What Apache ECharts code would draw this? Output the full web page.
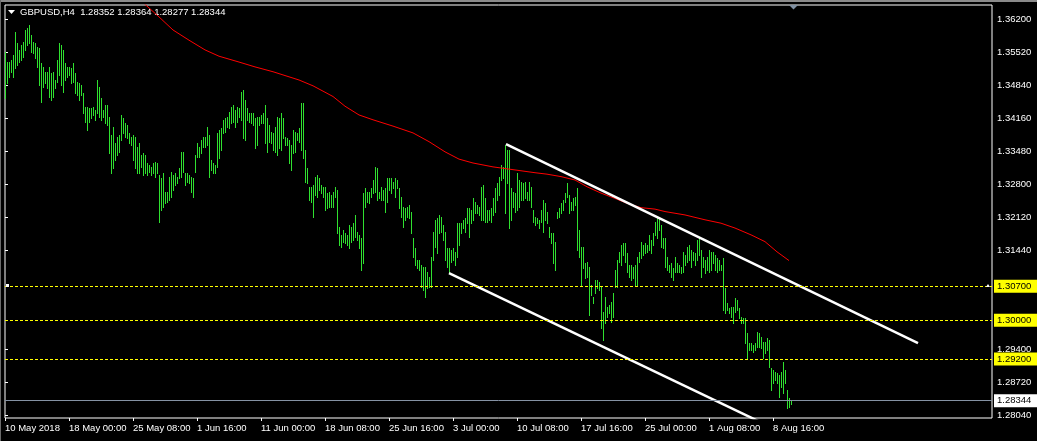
<!DOCTYPE html>
<html><head><meta charset="utf-8">
<script src="https://cdn.jsdelivr.net/npm/echarts@6/dist/echarts.min.js"></script>
<style>html,body{margin:0;padding:0;background:#000;}#c{width:1037px;height:441px;}</style>
</head><body><div id="c"></div>
<script>
// ---------- data ----------
const symbolName = 'GBPUSD,H4';
const headerOHLC = [1.28352, 1.28364, 1.28277, 1.28344];
const xTickIndex = [0,32,64,96,128,160,192,224,256,288,320,352,384];
const xTickLabels = ['10 May 2018','18 May 00:00','25 May 08:00','1 Jun 16:00','11 Jun 00:00','18 Jun 08:00','25 Jun 16:00','3 Jul 00:00','10 Jul 08:00','17 Jul 16:00','25 Jul 00:00','1 Aug 08:00','8 Aug 16:00'];
const yTickValues = [1.2804,1.2872,1.2940,1.3144,1.3212,1.3280,1.3348,1.3416,1.3484,1.3552,1.3620];
const levelLines = [1.30700, 1.30000, 1.29200];
const bidPrice = 1.28344;

const barHigh = [
1.3553,1.3532,1.3532,1.3536,1.3547,1.3594,1.3571,1.3557,1.3567,1.3574,
1.3598,1.3602,1.3609,1.3588,1.3574,1.3571,1.3563,1.3561,1.3530,1.3522,
1.3512,1.3512,1.3522,1.3510,1.3512,1.3495,1.3536,1.3571,1.3567,1.3557,
1.3530,1.3522,1.3522,1.3520,1.3530,1.3510,1.3491,1.3489,1.3485,1.3468,
1.3440,1.3440,1.3438,1.3438,1.3440,1.3433,1.3495,1.3481,1.3458,1.3433,
1.3444,1.3444,1.3419,1.3382,1.3398,1.3365,1.3378,1.3382,1.3423,1.3417,
1.3407,1.3402,1.3386,1.3378,1.3382,1.3378,1.3357,1.3365,1.3341,1.3345,
1.3341,1.3324,1.3320,1.3316,1.3324,1.3326,1.3324,1.3300,1.3293,1.3304,
1.3265,1.3265,1.3295,1.3306,1.3300,1.3304,1.3295,1.3314,1.3347,1.3347,
1.3304,1.3304,1.3300,1.3295,1.3293,1.3341,1.3365,1.3357,1.3372,1.3378,
1.3378,1.3398,1.3382,1.3330,1.3324,1.3320,1.3386,1.3392,1.3396,1.3413,
1.3417,1.3419,1.3429,1.3440,1.3444,1.3433,1.3440,1.3438,1.3470,1.3475,
1.3454,1.3438,1.3427,1.3427,1.3427,1.3417,1.3419,1.3419,1.3423,1.3427,
1.3444,1.3417,1.3402,1.3388,1.3386,1.3398,1.3419,1.3417,1.3427,1.3417,
1.3378,1.3376,1.3372,1.3361,1.3392,1.3388,1.3386,1.3396,1.3448,1.3448,
1.3351,1.3314,1.3275,1.3275,1.3279,1.3295,1.3300,1.3293,1.3279,1.3275,
1.3275,1.3262,1.3265,1.3258,1.3265,1.3275,1.3269,1.3192,1.3176,1.3186,
1.3180,1.3176,1.3197,1.3192,1.3201,1.3217,1.3182,1.3176,1.3170,1.3262,
1.3273,1.3265,1.3265,1.3273,1.3289,1.3316,1.3314,1.3265,1.3275,1.3269,
1.3273,1.3293,1.3293,1.3293,1.3285,1.3293,1.3289,1.3273,1.3254,1.3234,
1.3231,1.3234,1.3238,1.3223,1.3170,1.3149,1.3124,1.3124,1.3114,1.3110,
1.3110,1.3100,1.3089,1.3131,1.3182,1.3207,1.3211,1.3217,1.3213,1.3197,
1.3182,1.3149,1.3149,1.3145,1.3149,1.3141,1.3201,1.3201,1.3201,1.3207,
1.3211,1.3231,1.3231,1.3227,1.3252,1.3244,1.3238,1.3234,1.3275,1.3279,
1.3252,1.3227,1.3227,1.3231,1.3252,1.3273,1.3283,1.3295,1.3320,1.3316,
1.3361,1.3351,1.3351,1.3273,1.3265,1.3262,1.3304,1.3289,1.3285,1.3283,
1.3285,1.3265,1.3285,1.3275,1.3227,1.3213,1.3211,1.3207,1.3227,1.3248,
1.3242,1.3223,1.3192,1.3180,1.3180,1.3162,1.3223,1.3231,1.3242,1.3248,
1.3262,1.3283,1.3258,1.3244,1.3252,1.3254,1.3273,1.3186,1.3151,1.3151,
1.3118,1.3120,1.3110,1.3073,1.3048,1.3083,1.3083,1.3079,1.3069,1.3017,
1.3048,1.3028,1.3032,1.3038,1.3056,1.3104,1.3124,1.3141,1.3155,1.3159,
1.3159,1.3139,1.3114,1.3114,1.3110,1.3114,1.3131,1.3141,1.3162,1.3155,
1.3159,1.3155,1.3176,1.3166,1.3180,1.3203,1.3211,1.3213,1.3197,1.3170,
1.3170,1.3131,1.3114,1.3118,1.3108,1.3131,1.3118,1.3114,1.3110,1.3141,
1.3135,1.3151,1.3155,1.3145,1.3141,1.3139,1.3166,1.3172,1.3145,1.3131,
1.3124,1.3131,1.3145,1.3141,1.3141,1.3135,1.3128,1.3124,1.3114,1.3128,
1.3067,1.3036,1.3026,1.3028,1.3028,1.3046,1.3042,1.3026,1.3007,1.3005,
1.3005,1.2974,1.2953,1.2953,1.2949,1.2953,1.2976,1.2974,1.2966,1.2956,
1.2956,1.2964,1.2960,1.2902,1.2898,1.2894,1.2892,1.2888,1.2894,1.2914,
1.2898,1.2857,1.2840,1.28364
];
const barLow = [
1.3458,1.3489,1.3501,1.3512,1.3501,1.3520,1.3526,1.3532,1.3536,1.3543,
1.3557,1.3567,1.3571,1.3553,1.3551,1.3541,1.3522,1.3485,1.3450,1.3481,
1.3489,1.3479,1.3460,1.3454,1.3460,1.3479,1.3491,1.3506,1.3485,1.3471,
1.3495,1.3501,1.3506,1.3489,1.3491,1.3468,1.3464,1.3454,1.3464,1.3427,
1.3409,1.3392,1.3409,1.3417,1.3423,1.3413,1.3427,1.3419,1.3413,1.3419,
1.3407,1.3402,1.3345,1.3304,1.3314,1.3330,1.3341,1.3347,1.3372,1.3386,
1.3378,1.3376,1.3365,1.3361,1.3330,1.3314,1.3304,1.3304,1.3316,1.3300,
1.3304,1.3300,1.3306,1.3300,1.3304,1.3295,1.3304,1.3203,1.3227,1.3234,
1.3242,1.3244,1.3248,1.3254,1.3269,1.3279,1.3283,1.3293,1.3295,1.3306,
1.3279,1.3285,1.3283,1.3264,1.3254,1.3306,1.3337,1.3337,1.3345,1.3357,
1.3357,1.3361,1.3295,1.3310,1.3304,1.3304,1.3316,1.3335,1.3351,1.3386,
1.3388,1.3398,1.3396,1.3407,1.3409,1.3398,1.3409,1.3419,1.3413,1.3376,
1.3372,1.3413,1.3409,1.3407,1.3402,1.3355,1.3361,1.3402,1.3407,1.3407,
1.3365,1.3347,1.3367,1.3365,1.3351,1.3347,1.3341,1.3355,1.3351,1.3376,
1.3361,1.3361,1.3324,1.3310,1.3345,1.3347,1.3372,1.3367,1.3351,1.3335,
1.3285,1.3283,1.3248,1.3244,1.3213,1.3258,1.3254,1.3269,1.3262,1.3254,
1.3227,1.3231,1.3234,1.3234,1.3234,1.3254,1.3180,1.3155,1.3151,1.3161,
1.3159,1.3155,1.3149,1.3161,1.3166,1.3172,1.3166,1.3149,1.3104,1.3118,
1.3234,1.3244,1.3242,1.3254,1.3262,1.3265,1.3248,1.3252,1.3248,1.3248,
1.3223,1.3244,1.3269,1.3262,1.3273,1.3254,1.3273,1.3231,1.3213,1.3192,
1.3207,1.3213,1.3211,1.3180,1.3131,1.3114,1.3108,1.3104,1.3069,1.3063,
1.3048,1.3067,1.3069,1.3069,1.3124,1.3151,1.3139,1.3180,1.3182,1.3166,
1.3124,1.3110,1.3098,1.3120,1.3124,1.3114,1.3131,1.3155,1.3180,1.3190,
1.3182,1.3201,1.3172,1.3201,1.3207,1.3221,1.3221,1.3217,1.3207,1.3207,
1.3203,1.3203,1.3207,1.3203,1.3217,1.3223,1.3248,1.3258,1.3289,1.3293,
1.3221,1.3283,1.3190,1.3207,1.3234,1.3223,1.3227,1.3234,1.3248,1.3248,
1.3252,1.3248,1.3248,1.3234,1.3203,1.3197,1.3201,1.3190,1.3203,1.3182,
1.3207,1.3201,1.3172,1.3159,1.3118,1.3104,1.3211,1.3213,1.3221,1.3227,
1.3244,1.3254,1.3221,1.3227,1.3227,1.3238,1.3145,1.3131,1.3073,1.3108,
1.3087,1.3089,1.3011,1.3052,1.3036,1.3056,1.3067,1.3063,1.2984,1.2960,
1.2995,1.3007,1.3015,1.2997,1.3007,1.3069,1.3069,1.3120,1.3114,1.3135,
1.3120,1.3100,1.3089,1.3083,1.3087,1.3073,1.3073,1.3120,1.3128,1.3135,
1.3139,1.3141,1.3145,1.3139,1.3155,1.3176,1.3170,1.3186,1.3151,1.3149,
1.3110,1.3104,1.3100,1.3089,1.3083,1.3100,1.3100,1.3100,1.3098,1.3100,
1.3114,1.3120,1.3124,1.3110,1.3124,1.3114,1.3124,1.3135,1.3089,1.3110,
1.3098,1.3104,1.3100,1.3104,1.3118,1.3104,1.3100,1.3104,1.3104,1.3021,
1.3015,1.3021,1.3015,1.3007,1.2995,1.3017,1.3021,1.3005,1.2995,1.2995,
1.2953,1.2922,1.2939,1.2939,1.2935,1.2939,1.2945,1.2945,1.2943,1.2922,
1.2933,1.2939,1.2904,1.2857,1.2871,1.2877,1.2871,1.2842,1.2863,1.2850,
1.2871,1.2820,1.2822,1.28277
];

// moving average (red), sampled at bar indices
const maIndex = [67,77,84,92,100,107,117,125,134,147,154,164,170,177,184,194,204,212,220,227,234,244,251,258,265,271,278,285,291,298,305,311,318,325,330,340,350,358,365,373,380,386,392];
const maValue = [1.3662,1.3625,1.3598,1.3577,1.3557,1.3544,1.3532,1.3522,1.3512,1.3495,1.3483,1.3461,1.3441,1.3423,1.3413,1.3400,1.3386,1.3368,1.3347,1.3332,1.3324,1.3316,1.3312,1.3308,1.3304,1.3301,1.3296,1.3289,1.3275,1.3262,1.3251,1.3241,1.3232,1.3229,1.3224,1.3217,1.3207,1.3200,1.3190,1.3176,1.3162,1.3141,1.3123];

// channel trend lines: [barIndex, price]
const channelUpper = [[250.5, 1.3363], [456.5, 1.2953]];
const channelLower = [[222, 1.3097], [387.5, 1.2771]];

// ---------- chart ----------
const FONT = '"Liberation Sans", Arial, sans-serif';
const BAR_COLOR = '#2fe02f';
const bars = barHigh.map((h, i) => [i, barLow[i], h]);
const maData = maIndex.map((ix, k) => [ix, maValue[k]]);

const chart = echarts.init(document.getElementById('c'), null, {renderer: 'canvas'});
const labelBase = {show: true, position: 'end', distance: 2, fontSize: 9.5, fontFamily: FONT,
  padding: [2, 8, 1, 3], lineHeight: 10, formatter: p => Number(p.value).toFixed(5)};

const option = {
  backgroundColor: '#000',
  animation: false,
  grid: {left: 5, right: 45, top: 5, bottom: 23, show: true, borderColor: '#ffffff', borderWidth: 1, backgroundColor: 'transparent'},
  xAxis: {
    type: 'value', min: 0, max: 493.5,
    axisLine: {show: false}, splitLine: {show: false},
    axisTick: {show: true, length: 3, lineStyle: {color: '#ffffff'}, customValues: xTickIndex},
    axisLabel: {customValues: xTickIndex, formatter: v => xTickLabels[xTickIndex.indexOf(v)],
      color: '#ffffff', fontSize: 9.5, fontFamily: FONT, align: 'left', margin: 5}
  },
  yAxis: {
    type: 'value', position: 'right', min: 1.27987, max: 1.36495,
    axisLine: {show: false}, splitLine: {show: false},
    axisTick: {show: true, length: 3, lineStyle: {color: '#ffffff'}, customValues: yTickValues},
    axisLabel: {customValues: yTickValues, formatter: v => v.toFixed(5),
      color: '#ffffff', fontSize: 9.5, fontFamily: FONT, margin: 5}
  },
  series: [
    {
      type: 'custom', name: 'bars', data: bars, clip: true,
      encode: {x: 0, y: [1, 2]},
      renderItem: (params, api) => {
        const i = api.value(0);
        const lo = api.coord([i, api.value(1)]);
        const hi = api.coord([i, api.value(2)]);
        const x = Math.floor(lo[0] + 0.01) + 0.5;
        return {type: 'line', shape: {x1: x, y1: Math.round(hi[1]), x2: x, y2: Math.round(lo[1]) + 1},
          style: {stroke: BAR_COLOR, lineWidth: 1}};
      }
    },
    {
      type: 'line', name: 'MA', data: maData, showSymbol: false, symbol: 'none', clip: true,
      lineStyle: {color: '#ff0000', width: 1}, z: 3
    },
    {
      type: 'line', name: 'upper', data: channelUpper, symbol: 'none', clip: true,
      lineStyle: {color: '#ffffff', width: 2.5}, z: 4,
      markLine: {
        silent: true, symbol: 'none', precision: 5, animation: false,
        label: labelBase,
        data: [
          ...levelLines.map(v => ({yAxis: v, lineStyle: {color: '#ffff00', type: [3, 2], width: 1},
            label: {backgroundColor: '#ffff00', color: '#000000'}})),
          {yAxis: bidPrice, lineStyle: {color: '#8592a4', type: 'solid', width: 1},
            label: {backgroundColor: '#ffffff', color: '#000000'}}
        ]
      }
    },
    {
      type: 'line', name: 'lower', data: channelLower, symbol: 'none', clip: true,
      lineStyle: {color: '#ffffff', width: 2.5}, z: 4
    }
  ],
  graphic: [
    {type: 'rect', shape: {x: 0, y: 0, width: 1037, height: 2}, style: {fill: '#8a8a8a'}, silent: true},
    {type: 'rect', shape: {x: 0, y: 0, width: 1, height: 441}, style: {fill: '#6a6a6a'}, silent: true},
    {type: 'polygon', shape: {points: [[8, 10], [15, 10], [11.5, 14]]}, style: {fill: '#ffffff'}, silent: true},
    {type: 'text', left: 20, top: 7, style: {text: symbolName + '  ' + headerOHLC.map(v => v.toFixed(5)).join(' '),
      fill: '#ffffff', font: '9.5px ' + FONT}, silent: true},
    {type: 'polygon', shape: {points: [[789, 5], [798, 5], [793.5, 9.5]]}, style: {fill: '#8090a2'}, silent: true, z: 10},
    {type: 'rect', shape: {x: 6, y: 284, width: 3, height: 3}, style: {fill: '#ffffff'}, silent: true, z: 10},
    {type: 'polygon', shape: {points: [[986, 287], [990, 287], [988, 284]]}, style: {fill: '#ffffff'}, silent: true, z: 10}
  ]
};
chart.setOption(option);
</script>
</body></html>
